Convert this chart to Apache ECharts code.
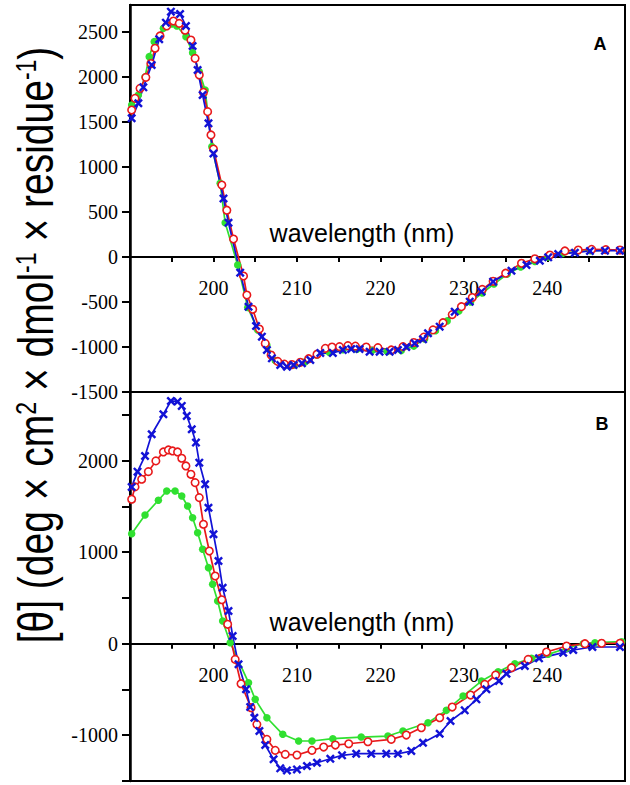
<!DOCTYPE html>
<html>
<head>
<meta charset="utf-8">
<script src="https://cdn.jsdelivr.net/npm/echarts@6/dist/echarts.min.js"></script>
<style>
html,body{margin:0;padding:0;background:#fff;}
#chart{width:630px;height:785px;}
</style>
</head>
<body>
<div id="chart"></div>
<script>
// ---- Panel A (wavelength nm, ellipticity) ----
var aGreenX = [190.2,191.0,191.8,192.3,192.9,194.0,195.0,195.6,196.7,197.5,198.3,199.0,199.8,200.8,201.4,202.9,204.1,205.3,206.4,207.4,208.5,209.7,211.0,212.4,213.9,215.5,217.2,219.0,220.8,222.5,224.0,225.3,226.6,228.0,229.4,230.8,232.2,233.6,235.2,236.8,238.5,240.1,241.8,243.5,245.2,247.0,248.8];
var aGreenY = [1689,1800,2000,2226,2393,2541,2590,2567,2448,2270,2059,1856,1226,819,381,-89,-560,-810,-980,-1150,-1200,-1200,-1165,-1090,-1060,-1030,-1025,-1040,-1050,-1040,-990,-910,-820,-710,-600,-500,-400,-300,-190,-110,-50,0,40,60,70,75,75];
var aRedX = [190.2,190.6,191.2,191.9,192.5,193.0,193.6,194.4,195.2,195.9,196.6,197.3,197.8,198.3,198.8,199.3,199.7,200.0,201.0,201.6,202.4,203.6,204.0,204.7,205.5,206.2,206.9,207.7,208.5,209.4,210.4,211.4,212.4,213.4,214.2,215.1,216.1,217.0,218.3,219.7,221.3,222.7,224.0,225.2,226.3,227.5,228.6,229.7,231.0,232.2,233.5,235.0,236.9,238.5,240.3,242.1,243.7,245.3,247.0,248.7];
var aRedY = [1633,1763,1874,1996,2150,2319,2456,2567,2622,2596,2520,2411,2207,2022,1830,1615,1356,1200,800,520,200,-211,-422,-581,-800,-960,-1089,-1160,-1190,-1195,-1170,-1130,-1080,-1015,-1000,-996,-985,-990,-1000,-1007,-1033,-996,-950,-890,-810,-730,-640,-552,-450,-360,-270,-180,-70,-20,22,67,78,85,82,78];
var aBlueX = [190.2,191.0,191.6,192.6,193.5,194.3,194.9,196.0,196.7,197.5,198.1,198.7,199.4,200.0,201.2,201.8,203.2,204.2,205.1,205.8,206.4,207.0,208.0,208.8,209.6,210.6,211.6,212.8,214.3,215.5,216.5,217.5,218.7,219.9,221.1,222.1,223.1,224.1,225.1,225.7,227.1,228.9,230.7,232.1,233.5,235.7,237.5,239.1,240.1,241.3,243.3,245.1,246.9,248.7];
var aBlueY = [1541,1708,1885,2133,2419,2604,2726,2700,2567,2344,2078,1800,1485,1150,650,380,-174,-552,-767,-885,-1033,-1126,-1200,-1219,-1200,-1181,-1144,-1067,-1067,-1033,-1022,-1022,-1052,-1052,-1052,-1033,-1000,-959,-915,-848,-774,-607,-496,-385,-274,-152,-89,-41,-4,33,48,67,70,70];

// ---- Panel B ----
var bGreenX = [190.2,191.8,193.4,194.4,195.4,196.2,196.9,197.5,198.1,198.7,199.4,199.9,200.5,201.1,202.0,204.2,205.0,206.4,208.3,210.2,211.8,214.3,217.7,220.9,222.7,225.7,227.9,229.9,232.1,234.1,236.1,238.1,240.1,242.3,244.3,245.7,248.9];
var bGreenY = [1202,1407,1567,1669,1669,1614,1505,1377,1213,1032,831,649,467,248,11,-426,-608,-809,-990,-1063,-1063,-1038,-1020,-1009,-954,-863,-728,-572,-408,-306,-219,-160,-116,-50,0,11,22];
var bRedX = [190.2,190.6,191.4,192.2,193.1,194.0,194.6,195.1,195.7,196.2,196.7,197.3,197.8,198.3,198.8,199.5,200.2,201.0,201.7,202.6,203.3,204.5,205.2,206.4,207.4,208.6,210.0,211.8,213.2,214.6,216.2,218.5,221.3,223.1,224.9,227.1,228.6,230.8,232.5,233.8,235.7,237.7,239.9,242.3,244.5,246.5,248.7];
var bRedY = [1578,1713,1797,1880,1997,2095,2117,2106,2095,2026,1942,1851,1760,1596,1305,1013,740,480,212,-171,-437,-699,-881,-1045,-1165,-1209,-1216,-1165,-1129,-1107,-1093,-1071,-1045,-998,-918,-809,-692,-561,-444,-342,-262,-171,-91,-25,0,5,5];
var bBlueX = [190.2,190.9,191.8,192.6,194.0,194.9,195.7,196.2,196.8,197.4,197.9,198.3,199.0,199.4,200.0,200.6,201.1,201.8,202.3,203.0,203.9,204.4,204.9,205.5,206.2,207.2,208.0,208.8,210.0,211.2,212.4,214.0,215.4,217.1,218.9,220.7,222.1,223.7,225.1,227.1,228.4,230.1,231.5,232.7,234.2,235.1,237.3,239.0,241.9,243.1,245.4,248.7];
var bBlueY = [1713,1880,2051,2288,2507,2652,2645,2598,2489,2343,2197,1978,1742,1486,1196,904,612,357,84,-225,-498,-692,-809,-954,-1107,-1263,-1362,-1384,-1373,-1337,-1300,-1257,-1220,-1202,-1202,-1202,-1202,-1173,-1082,-984,-845,-728,-608,-498,-408,-328,-244,-160,-98,-69,-36,-36];

var xTickLabels = [200,210,220,230,240];
var aYLabels = [-1500,-1000,-500,0,500,1000,1500,2000,2500];
var bYLabels = [-1000,0,1000,2000];
var panelLabels = ['A','B'];
var xTitle = 'wavelength (nm)';

function pairs(xs, ys){ return xs.map(function(x,i){ return [x, ys[i]]; }); }

var GREEN = '#30e030', RED = '#e8191b', BLUE = '#1212d6';
var XPATH = 'path://M0,1.9L1.9,0L5,3.1L8.1,0L10,1.9L6.9,5L10,8.1L8.1,10L5,6.9L1.9,10L0,8.1L3.1,5Z';
var serif = '"Liberation Serif","Times New Roman",serif';
var sans = '"Liberation Sans",Arial,sans-serif';

// layout of the two panels
var G = [
  {left:130, top:5, width:495, height:387, ymin:-1500, ymax:2800},
  {left:130, top:392, width:495, height:389, ymin:-1500, ymax:2750}
];
// offset that puts the x axis on the zero line (computed from the axis scale)
function zeroOffset(g){ return -g.height * (0 - g.ymin) / (g.ymax - g.ymin); }

function xAxisCfg(gi){
  return {
    type:'value', gridIndex:gi, min:190, max:249.3, interval:5, position:'bottom',
    offset: zeroOffset(G[gi]),
    axisLine:{show:true, onZero:false, lineStyle:{color:'#000', width:2}},
    axisTick:{show:true, length:5, inside:false, lineStyle:{color:'#000', width:2}},
    axisLabel:{show:true, margin:21, color:'#000', fontFamily:serif, fontSize:20,
      showMaxLabel:false,
      formatter:function(v){ return xTickLabels.indexOf(Math.round(v))>=0 && Math.abs(v-Math.round(v))<1e-6 ? String(Math.round(v)) : ''; }},
    splitLine:{show:false}
  };
}
function yAxisCfg(gi, labels){
  return {
    type:'value', gridIndex:gi, min:G[gi].ymin, max:G[gi].ymax, interval:500,
    axisLine:{show:true, onZero:false, lineStyle:{color:'#000', width:2.5}},
    axisTick:{show:true, length:8, inside:false, lineStyle:{color:'#000', width:2}},
    axisLabel:{show:true, margin:12, color:'#000', fontFamily:serif, fontSize:20,
      showMaxLabel:false,
      formatter:function(v){ return labels.indexOf(Math.round(v))>=0 ? String(Math.round(v)) : ''; }},
    splitLine:{show:false}
  };
}
function ser(name, gi, xs, ys, color, symbol, size, extra){
  var s = {
    name:name, type:'line', xAxisIndex:gi, yAxisIndex:gi,
    data:pairs(xs, ys), symbol:symbol, symbolSize:size, showSymbol:true,
    lineStyle:{color:color, width:1.7}, itemStyle:{color:color},
    emphasis:{disabled:true}, animation:false, z:2
  };
  if (extra) for (var k in extra) s[k]=extra[k];
  return s;
}

var chart = echarts.init(document.getElementById('chart'), null, {renderer:'svg'});
chart.setOption({
  backgroundColor:'#fff',
  animation:false,
  grid:G.map(function(g){ return {left:g.left, top:g.top, width:g.width, height:g.height, show:true, borderColor:'#000', borderWidth:2, backgroundColor:'transparent'}; }),
  xAxis:[xAxisCfg(0), xAxisCfg(1)],
  yAxis:[yAxisCfg(0,aYLabels), yAxisCfg(1,bYLabels)],
  series:[
    ser('A green',0,aGreenX,aGreenY,GREEN,'circle',7.5),
    ser('A red',0,aRedX,aRedY,RED,'circle',7.5,{itemStyle:{color:'#fff', borderColor:RED, borderWidth:1.6}}),
    ser('A blue',0,aBlueX,aBlueY,BLUE,XPATH,9),
    ser('B green',1,bGreenX,bGreenY,GREEN,'circle',7.5),
    ser('B red',1,bRedX,bRedY,RED,'circle',7.5,{itemStyle:{color:'#fff', borderColor:RED, borderWidth:1.6}}),
    ser('B blue',1,bBlueX,bBlueY,BLUE,XPATH,9)
  ],
  graphic:[
    {type:'text', x:600, y:44, style:{text:panelLabels[0], font:'bold 18px '+sans, fill:'#000', align:'center', verticalAlign:'middle'}},
    {type:'text', x:602, y:424, style:{text:panelLabels[1], font:'bold 18px '+sans, fill:'#000', align:'center', verticalAlign:'middle'}},
    {type:'text', x:362, y:233, style:{text:xTitle, font:'25px '+sans, fill:'#000', align:'center', verticalAlign:'middle'}},
    {type:'text', x:362, y:622, style:{text:xTitle, font:'25px '+sans, fill:'#000', align:'center', verticalAlign:'middle'}},
    {type:'text', x:36, y:345, rotation:Math.PI/2, scaleX:1, scaleY:1.3,
      style:{
        text:'{n|[θ] (deg × cm}{s|2}{n| × dmol}{s|-1}{n| × residue}{s|-1}{n|)}',
        align:'center', verticalAlign:'middle', fill:'#000',
        rich:{
          n:{fontFamily:sans, fontSize:39, fill:'#000'},
          s:{fontFamily:sans, fontSize:23, fill:'#000', verticalAlign:'top'}
        }
      }}
  ]
});
</script>
</body>
</html>
